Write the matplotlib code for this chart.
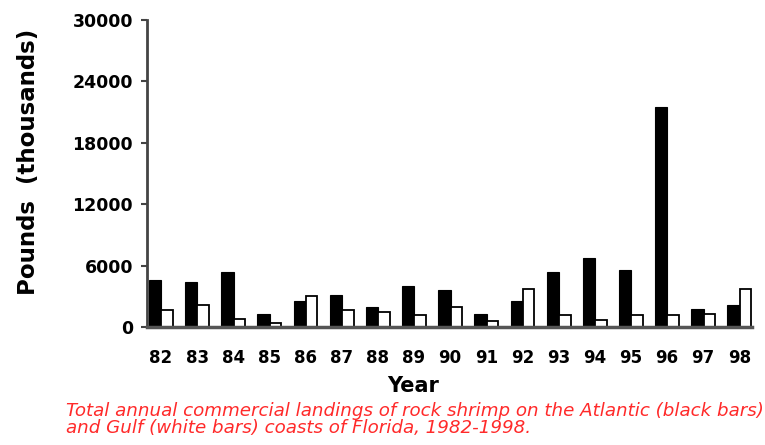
import numpy as np
import matplotlib.pyplot as plt

plt.rcParams['font.family'] = ['DejaVu Sans']

# Rock shrimp landings, thousands of pounds
years = ['82', '83', '84', '85', '86', '87', '88', '89', '90',
         '91', '92', '93', '94', '95', '96', '97', '98']
atlantic = [4600, 4400, 5400, 1250, 2500, 3150, 2000, 4000, 3600,
            1300, 2550, 5400, 6750, 5550, 21550, 1800, 2200]
gulf = [1700, 2200, 800, 400, 3000, 1700, 1450, 1200, 1950,
        600, 3750, 1200, 650, 1200, 1200, 1300, 3700]
yticks = [0, 6000, 12000, 18000, 24000, 30000]


def main():
    fig = plt.figure(figsize=(7.65, 4.45), dpi=100)
    ax = fig.add_axes([0.192, 0.265, 0.791, 0.69])

    x = np.arange(len(years))
    ax.bar(x - 0.16, atlantic, width=0.34, color='black', edgecolor='black',
           linewidth=0.8)
    ax.bar(x + 0.17, gulf, width=0.32, color='white', edgecolor='black',
           linewidth=1.3)

    ax.set_xlim(-0.39, 16.35)
    ax.set_ylim(0, 30000)
    ax.set_yticks(yticks)
    ax.set_yticklabels([str(v) for v in yticks], fontsize=12.5,
                       fontweight='bold')
    ax.set_xticks(x)
    ax.set_xticklabels(years, fontsize=12, fontweight='bold')
    ax.tick_params(axis='x', length=0, pad=16)
    ax.tick_params(axis='y', length=4, width=1.5, color='#444444', pad=6)

    for side in ('top', 'right'):
        ax.spines[side].set_visible(False)
    ax.spines['left'].set_color('#444444')
    ax.spines['left'].set_linewidth(2)
    ax.spines['bottom'].set_color('#555555')
    ax.spines['bottom'].set_linewidth(2.5)

    ax.set_ylabel('Pounds  (thousands)', fontsize=16.5, fontweight='bold')
    ax.yaxis.set_label_coords(-0.177, 0.537)
    ax.set_xlabel('Year', fontsize=15, fontweight='bold')
    ax.xaxis.set_label_coords(0.44, -0.16)

    fig.text(0.086, 0.018,
             'Total annual commercial landings of rock shrimp on the Atlantic (black bars)\n'
             'and Gulf (white bars) coasts of Florida, 1982-1998.',
             color='#ff2a2a', fontsize=13.15, style='italic', ha='left',
             va='bottom', linespacing=0.93)

    fig.savefig('out.png', dpi=100)


if __name__ == "__main__":
    main()
